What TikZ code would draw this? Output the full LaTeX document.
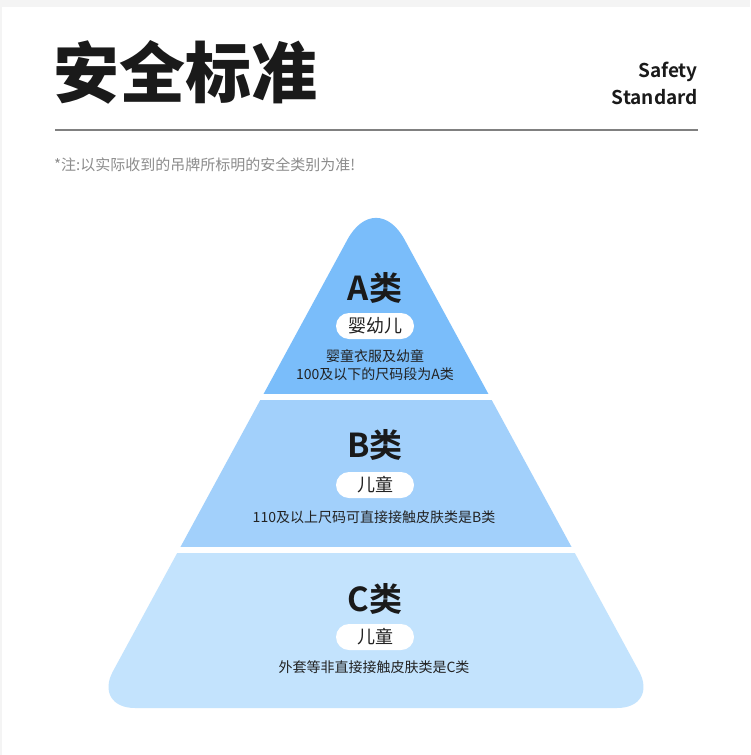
\documentclass[tikz,border=0pt]{standalone}
\usepackage{fontspec}
\setmainfont{Noto Sans CJK SC}[BoldFont={Noto Sans CJK SC Bold}]
\newfontfamily\blackfont{Noto Sans CJK SC Black}
\definecolor{bgray}{HTML}{F4F4F4}
\definecolor{colA}{HTML}{7ABDFA}
\definecolor{colB}{HTML}{A2D0FB}
\definecolor{colC}{HTML}{C3E3FD}
\definecolor{ink}{HTML}{1A1A1A}
\definecolor{body}{HTML}{222222}
\definecolor{note}{HTML}{8C8C8C}
\definecolor{rule}{HTML}{808080}
\tikzset{
  cat/.style={font=\bfseries\fontsize{33}{36}\selectfont, text=ink, inner sep=0pt},
  pill/.style={fill=white, rounded corners=13pt, minimum width=78pt, minimum height=26pt, inner sep=0pt, font=\fontsize{18}{20}\selectfont, text=body},
  desc/.style={font=\fontsize{14}{18}\selectfont, text=body, inner sep=0pt, align=center},
}
\begin{document}
\begin{tikzpicture}[x=1pt,y=-1pt]
\useasboundingbox (0,0) rectangle (750,755);
\fill[bgray] (0,0) rectangle (750,755);
\fill[white] (2,7) rectangle (750,755);
% header
\node[anchor=west, inner sep=0pt, text=ink, font=\blackfont\fontsize{66}{70}\selectfont] (title) at (53,72) {安全标准};
\node[anchor=east, inner sep=0pt, text=ink, align=right, font=\bfseries\fontsize{19}{27}\selectfont] (eng) at (698,83) {Safety\\Standard};
\draw[rule, line width=1.2pt] (55,130) -- (698,130);
\node[anchor=west, inner sep=0pt, text=note, font=\fontsize{15}{16}\selectfont] (note) at (54,165) {*注:以实际收到的吊牌所标明的安全类别为准!};
% pyramid
\coordinate (apex) at (376,187);
\coordinate (bl) at (93,708);
\coordinate (br) at (659,708);
\begin{scope}
\clip (376,708) [rounded corners=42pt] -- (bl) [rounded corners=60pt] -- (apex) [rounded corners=42pt] -- (br) -- cycle;
\fill[colA] (0,150) rectangle (750,394);
\fill[colB] (0,400) rectangle (750,547);
\fill[colC] (0,553) rectangle (750,720);
\end{scope}
% A
\node[cat] (catA) at (375,288) {A类};
\node[pill] (pillA) at (375,326) {婴幼儿};
\node[desc] (descA) at (375,365) {婴童衣服及幼童\\100及以下的尺码段为A类};
% B
\node[cat] (catB) at (375,445) {B类};
\node[pill] (pillB) at (375,485) {儿童};
\node[desc] (descB) at (374,517) {110及以上尺码可直接接触皮肤类是B类};
% C
\node[cat] (catC) at (375,599) {C类};
\node[pill] (pillC) at (375,637) {儿童};
\node[desc] (descC) at (374,667) {外套等非直接接触皮肤类是C类};
\end{tikzpicture}
\end{document}
